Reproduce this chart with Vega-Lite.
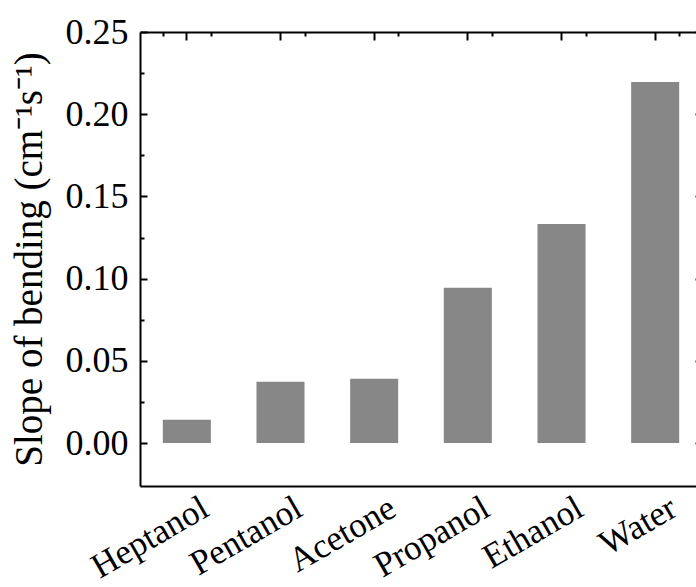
{
  "$schema": "https://vega.github.io/schema/vega-lite/v6.json",
  "autosize": {"type": "none"},
  "width": 562,
  "height": 454,
  "padding": {"left": 140, "top": 32, "right": -6, "bottom": 101},
  "background": "white",
  "data": {"values": [
    {"solvent": "Heptanol", "slope": 0.0142},
    {"solvent": "Pentanol", "slope": 0.0373},
    {"solvent": "Acetone", "slope": 0.0391},
    {"solvent": "Propanol", "slope": 0.0944},
    {"solvent": "Ethanol", "slope": 0.1333},
    {"solvent": "Water", "slope": 0.2196}
  ]},
  "config": {
    "view": {"stroke": null},
    "axis": {"labelFont": "Liberation Serif", "titleFont": "Liberation Serif", "domainColor": "black", "domainWidth": 2, "tickColor": "black", "tickWidth": 2, "labelColor": "black", "titleColor": "black", "grid": false}
  },
  "resolve": {"axis": {"x": "independent", "y": "independent"}},
  "encoding": {
    "x": {"field": "solvent", "type": "nominal", "sort": null,
      "scale": {"paddingInner": 0.487, "paddingOuter": 0.2435}},
    "y": {"field": "slope", "type": "quantitative",
      "scale": {"domain": [-0.0261, 0.25], "nice": false, "zero": false}}
  },
  "layer": [
    {
      "mark": {"type": "bar", "color": "#878787"},
      "encoding": {
        "x": {"field": "solvent", "type": "nominal", "sort": null,
          "axis": {"orient": "bottom", "title": null, "ticks": false, "labelAngle": -30, "labelAlign": "right", "labelBaseline": "top", "labelFontSize": 35, "labelOffset": 10, "labelPadding": 4}},
        "y": {"field": "slope", "type": "quantitative",
          "axis": {"orient": "left", "values": [0, 0.05, 0.1, 0.15, 0.2, 0.25], "format": ".2f", "tickSize": -7, "labelPadding": 19, "labelFontSize": 36, "title": "Slope of bending (cm⁻¹s⁻¹)", "titleFontSize": 39, "titleFontWeight": "normal", "titlePadding": 16}}
      }
    },
    {
      "mark": {"type": "bar", "opacity": 0},
      "encoding": {
        "x": {"field": "solvent", "type": "nominal", "sort": null,
          "axis": {"orient": "top", "title": null, "labels": false, "tickSize": -8}},
        "y": {"field": "slope", "type": "quantitative",
          "axis": {"orient": "right", "title": null, "labels": false, "values": [0, 0.05, 0.1, 0.15, 0.2, 0.25], "tickSize": -7}}
      }
    },
    {
      "mark": {"type": "bar", "opacity": 0},
      "encoding": {
        "x": {"field": "solvent", "type": "nominal", "sort": null,
          "axis": {"orient": "top", "title": null, "labels": false, "domain": false, "tickBand": "extent", "tickSize": -4}},
        "y": {"field": "slope", "type": "quantitative",
          "axis": {"orient": "left", "title": null, "labels": false, "domain": false, "values": [0.025, 0.075, 0.125, 0.175, 0.225], "tickSize": -4}}
      }
    },
    {
      "mark": {"type": "bar", "opacity": 0},
      "encoding": {
        "x": {"field": "solvent", "type": "nominal", "sort": null, "axis": null},
        "y": {"field": "slope", "type": "quantitative",
          "axis": {"orient": "right", "title": null, "labels": false, "domain": false, "values": [0.025, 0.075, 0.125, 0.175, 0.225], "tickSize": -4}}
      }
    }
  ]
}
